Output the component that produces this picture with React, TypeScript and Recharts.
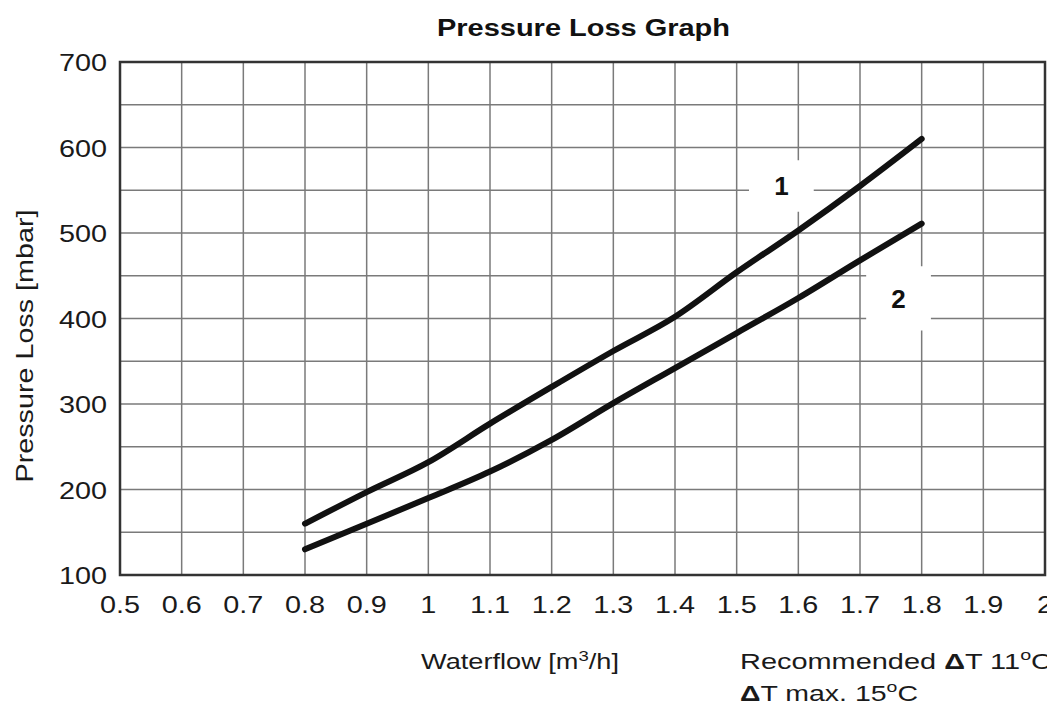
import React from 'react';
import { LineChart, Line, XAxis, YAxis, CartesianGrid, ReferenceArea } from 'recharts';

const xValues = [0.8, 0.9, 1.0, 1.1, 1.2, 1.3, 1.4, 1.5, 1.6, 1.7, 1.8];
const curve1 = [160, 197, 232, 277, 320, 362, 402, 454, 503, 555, 610];
const curve2 = [130, 160, 190, 221, 258, 301, 342, 383, 424, 468, 511];

const xTicks = [0.5, 0.6, 0.7, 0.8, 0.9, 1.0, 1.1, 1.2, 1.3, 1.4, 1.5, 1.6, 1.7, 1.8, 1.9, 2.0];
const xTickLabels = ['0.5', '0.6', '0.7', '0.8', '0.9', '1', '1.1', '1.2', '1.3', '1.4', '1.5', '1.6', '1.7', '1.8', '1.9', '2'];
const yTicks = [100, 150, 200, 250, 300, 350, 400, 450, 500, 550, 600, 650, 700];
const yTickLabels: Record<number, string> = { 100: '100', 200: '200', 300: '300', 400: '400', 500: '500', 600: '600', 700: '700' };

const data = xValues.map((x, i) => ({ x, c1: curve1[i], c2: curve2[i] }));

const FONT = '"Liberation Sans", Arial, Helvetica, sans-serif';
const W = 1047;
const H = 699;

const XTick = (props: any) => {
  const { x, y, payload } = props;
  const idx = xTicks.findIndex((t) => Math.abs(t - payload.value) < 1e-6);
  const label = idx >= 0 ? xTickLabels[idx] : '';
  return (
    <text transform={`translate(${x},${y + 30}) scale(1.2,1)`} textAnchor="middle" fontSize={24} fontFamily={FONT} fill="#1a1a1a">
      {label}
    </text>
  );
};

const YTick = (props: any) => {
  const { x, y, payload } = props;
  const label = yTickLabels[payload.value];
  if (!label) return <g />;
  return (
    <text transform={`translate(${x - 5},${y + 9}) scale(1.2,1)`} textAnchor="end" fontSize={24} fontFamily={FONT} fill="#1a1a1a">
      {label}
    </text>
  );
};

export default function App() {
  return (
    <div style={{ position: 'relative', width: W, height: H, background: '#fff', overflow: 'hidden' }}>
      <LineChart width={W} height={H} data={data} margin={{ top: 54, right: 10, bottom: 92, left: 0 }}>
        <CartesianGrid stroke="#7a7a7a" strokeWidth={1.5} />
        <XAxis
          dataKey="x"
          type="number"
          domain={[0.5, 2.0]}
          ticks={xTicks}
          interval={0}
          tick={<XTick />}
          tickLine={false}
          axisLine={false}
          height={40}
        />
        <YAxis
          type="number"
          domain={[100, 700]}
          ticks={yTicks}
          interval={0}
          tick={<YTick />}
          tickLine={false}
          axisLine={false}
          width={112}
        />
        <ReferenceArea x1={1.52} x2={1.625} y1={525} y2={585} fill="#fff" fillOpacity={1} stroke="none"
          label={{ value: '1', position: 'center', fontSize: 26, fontWeight: 'bold', fill: '#111', fontFamily: FONT }} />
        <ReferenceArea x1={1.71} x2={1.815} y1={386} y2={461} fill="#fff" fillOpacity={1} stroke="none"
          label={{ value: '2', position: 'center', fontSize: 26, fontWeight: 'bold', fill: '#111', fontFamily: FONT }} />
        <ReferenceArea x1={0.5} x2={2.0} y1={100} y2={700} fill="none" stroke="#333" strokeWidth={2.5} />
        <Line type="monotone" dataKey="c1" stroke="#111" strokeWidth={6} dot={false} strokeLinecap="round" isAnimationActive={false} />
        <Line type="monotone" dataKey="c2" stroke="#111" strokeWidth={6} dot={false} strokeLinecap="round" isAnimationActive={false} />
      </LineChart>
      <svg width={W} height={H} style={{ position: 'absolute', left: 0, top: 0, pointerEvents: 'none' }}>
        <text x={429} y={28} fontSize={23} fontWeight="bold" fontFamily={FONT} fill="#111" textLength={293} lengthAdjust="spacingAndGlyphs">
          Pressure Loss Graph
        </text>
        <text transform="translate(25,338) rotate(-90)" textAnchor="middle" fontSize={24} fontFamily={FONT} fill="#1a1a1a" textLength={273} lengthAdjust="spacingAndGlyphs">
          Pressure Loss [mbar]
        </text>
        <text x={413} y={661} fontSize={22} fontFamily={FONT} fill="#1a1a1a" textLength={198} lengthAdjust="spacingAndGlyphs">
          Waterflow [m<tspan dy={-8} fontSize={15}>3</tspan><tspan dy={8}>/h]</tspan>
        </text>
        <text x={732} y={661} fontSize={22} fontFamily={FONT} fill="#1a1a1a" textLength={312} lengthAdjust="spacingAndGlyphs">
          Recommended <tspan fontWeight="bold">Δ</tspan>T 11<tspan dy={-9} fontSize={15}>o</tspan><tspan dy={9}>C</tspan>
        </text>
        <text x={732} y={693} fontSize={22} fontFamily={FONT} fill="#1a1a1a" textLength={178} lengthAdjust="spacingAndGlyphs">
          <tspan fontWeight="bold">Δ</tspan>T max. 15<tspan dy={-9} fontSize={15}>o</tspan><tspan dy={9}>C</tspan>
        </text>
      </svg>
    </div>
  );
}
